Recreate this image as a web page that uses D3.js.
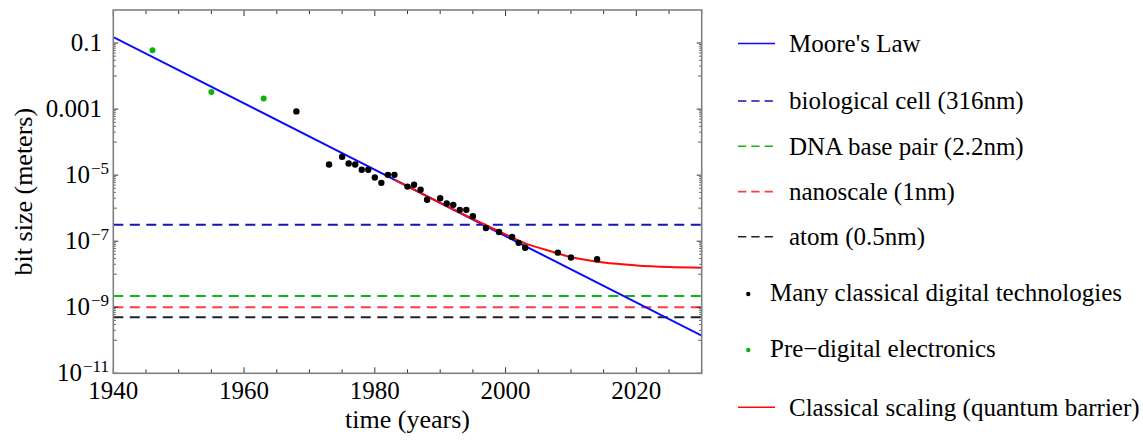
<!DOCTYPE html>
<html>
<head>
<meta charset="utf-8">
<script src="https://cdn.jsdelivr.net/npm/d3@7/dist/d3.min.js"></script>
<style>
  body { margin: 0; background: #fff; }
  svg { display: block; }
  text { font-family: "Liberation Serif", "Times New Roman", serif; fill: #000; }
</style>
</head>
<body>
<svg id="chart" width="1143" height="443"></svg>
<script>
// ---- data ----
const mooreYears = [1940, 2030];
const mooreValues = [0.152, 1.38e-10];

const scalingYears  = [1983, 1990, 1995, 2000, 2003, 2006, 2010, 2015, 2020, 2025, 2030];
const scalingValues = [7.27e-6, 1.44e-6, 4.7e-7, 1.6e-7, 8.6e-8, 5.6e-8, 3.3e-8, 2.25e-8, 1.85e-8, 1.66e-8, 1.58e-8];

const levelNames  = ["biological cell (316nm)", "DNA base pair (2.2nm)", "nanoscale (1nm)", "atom (0.5nm)"];
const levelValues = [3.16e-7, 2.2e-9, 1e-9, 5e-10];

const digitalYears  = [1968, 1973, 1975, 1976, 1977, 1978, 1979, 1980, 1981, 1982, 1983, 1985, 1986, 1987, 1988,
                       1990, 1991, 1992, 1993, 1994, 1995, 1997, 1999, 2001, 2002, 2003, 2008, 2010, 2014];
const digitalValues = [8.5e-4, 2.1e-5, 3.6e-5, 2.25e-5, 2.1e-5, 1.45e-5, 1.45e-5, 8.5e-6, 5.85e-6, 1.02e-5, 1.02e-5,
                       4.5e-6, 5.1e-6, 3.6e-6, 1.8e-6, 2.0e-6, 1.38e-6, 1.26e-6, 8.9e-7, 8.9e-7, 5.7e-7,
                       2.5e-7, 1.9e-7, 1.35e-7, 8.9e-8, 6.3e-8, 4.5e-8, 3.2e-8, 2.85e-8];

const preDigitalYears  = [1946, 1955, 1963];
const preDigitalValues = [0.06, 0.0033, 0.0021];

const xTickYears  = [1940, 1960, 1980, 2000, 2020];
const yTickValues = [1e-11, 1e-9, 1e-7, 1e-5, 1e-3, 0.1];
const yTickLabels = ["10\u221211", "10\u22129", "10\u22127", "10\u22125", "0.001", "0.1"];

const seriesLabels = ["Moore's Law", "Many classical digital technologies", "Pre\u2212digital electronics",
                      "Classical scaling (quantum barrier)"];

// ---- styles ----
const levelColors = ["#1414b4", "#14b414", "#ff3c3c", "#222222"];
const mooreColor = "#0a0aff";
const scalingColor = "#ff0a0a";
const digitalColor = "#000000";
const preDigitalColor = "#0ab40a";

// ---- layout ----
const svg = d3.select("#chart");
const plot = { left: 113.3, right: 701.7, top: 10, bottom: 373.3 };

const x = d3.scaleLinear().domain([1940, 2030]).range([plot.left, plot.right]);
const y = d3.scaleLog().domain([1e-11, 1]).range([plot.bottom, plot.top]);

const clip = svg.append("defs").append("clipPath").attr("id", "plotClip")
  .append("rect").attr("x", plot.left).attr("y", plot.top)
  .attr("width", plot.right - plot.left).attr("height", plot.bottom - plot.top);

const marks = svg.append("g").attr("clip-path", "url(#plotClip)");

// reference levels
levelValues.forEach((v, i) => {
  marks.append("line")
    .attr("x1", x(1940)).attr("x2", x(2030))
    .attr("y1", y(v)).attr("y2", y(v))
    .attr("stroke", levelColors[i]).attr("stroke-width", 2)
    .attr("stroke-dasharray", "10,6.5");
});

const line = d3.line().x(d => x(d[0])).y(d => y(d[1]));

// Moore's law trend
marks.append("path")
  .datum(mooreYears.map((t, i) => [t, mooreValues[i]]))
  .attr("d", line)
  .attr("fill", "none").attr("stroke", mooreColor).attr("stroke-width", 2);

// classical scaling curve
marks.append("path")
  .datum(scalingYears.map((t, i) => [t, scalingValues[i]]))
  .attr("d", line.curve(d3.curveMonotoneX))
  .attr("fill", "none").attr("stroke", scalingColor).attr("stroke-width", 2);

// data points
marks.selectAll("circle.digital")
  .data(digitalYears.map((t, i) => [t, digitalValues[i]]))
  .join("circle").attr("class", "digital")
  .attr("cx", d => x(d[0])).attr("cy", d => y(d[1])).attr("r", 3.2)
  .attr("fill", digitalColor);

marks.selectAll("circle.pre")
  .data(preDigitalYears.map((t, i) => [t, preDigitalValues[i]]))
  .join("circle").attr("class", "pre")
  .attr("cx", d => x(d[0])).attr("cy", d => y(d[1])).attr("r", 3)
  .attr("fill", preDigitalColor);

// ---- frame and ticks ----
const tickColor = "#333";
const axes = svg.append("g");

const xMinor = d3.range(1940, 2031, 5);
[plot.bottom, plot.top].forEach((edge, k) => {
  const dir = k === 0 ? -1 : 1;
  axes.selectAll(null).data(xMinor).join("line")
    .attr("x1", d => x(d)).attr("x2", d => x(d))
    .attr("y1", edge)
    .attr("y2", d => edge + dir * (d % 20 === 0 ? 6 : 4))
    .attr("stroke", tickColor).attr("stroke-width", 1);
});

// log ticks: labelled decades plus sub-decade marks below each
const yMinor = [];
yTickValues.slice(1).forEach(v => {
  for (let m = 1; m <= 9; m++) yMinor.push(m * v / 10);
});
[plot.left, plot.right].forEach((edge, k) => {
  const dir = k === 0 ? 1 : -1;
  axes.selectAll(null).data(yTickValues).join("line")
    .attr("x1", edge).attr("x2", edge + dir * 5)
    .attr("y1", d => y(d)).attr("y2", d => y(d))
    .attr("stroke", tickColor).attr("stroke-width", 1);
  axes.selectAll(null).data(yMinor).join("line")
    .attr("x1", edge).attr("x2", (d, i) => edge + dir * (i % 9 === 0 ? 3.5 : 2.5))
    .attr("y1", d => y(d)).attr("y2", d => y(d))
    .attr("stroke", tickColor).attr("stroke-width", 0.8);
});

axes.append("rect")
  .attr("x", plot.left).attr("y", plot.top)
  .attr("width", plot.right - plot.left).attr("height", plot.bottom - plot.top)
  .attr("fill", "none").attr("stroke", "#808080").attr("stroke-width", 1.6);

// tick labels
axes.selectAll(null).data(xTickYears).join("text")
  .attr("x", d => x(d)).attr("y", 399)
  .attr("text-anchor", "middle").attr("font-size", 25)
  .text(d => d);

yTickValues.forEach((v, i) => {
  const label = yTickLabels[i];
  const t = axes.append("text")
    .attr("y", y(v) + 8).attr("text-anchor", "end").attr("font-size", 25);
  if (label.startsWith("10\u2212")) {
    t.attr("x", 109);
    t.append("tspan").text("10");
    t.append("tspan").attr("font-size", 17).attr("dy", -9).attr("dx", 1).text(label.slice(2));
  } else {
    t.attr("x", 102).text(label);
  }
});

// axis titles
svg.append("text")
  .attr("x", (plot.left + plot.right) / 2).attr("y", 428)
  .attr("text-anchor", "middle").attr("font-size", 26)
  .text("time (years)");

svg.append("text")
  .attr("transform", `translate(32,${(plot.top + plot.bottom) / 2}) rotate(-90)`)
  .attr("text-anchor", "middle").attr("font-size", 26)
  .text("bit size (meters)");

// ---- legend ----
const legend = svg.append("g");
const lineEntry = (yPos, color, dashed, label) => {
  legend.append("line")
    .attr("x1", 738).attr("x2", 775).attr("y1", yPos).attr("y2", yPos)
    .attr("stroke", color).attr("stroke-width", 1.6)
    .attr("stroke-dasharray", dashed ? "8.3,5" : null);
  legend.append("text").attr("x", 789).attr("y", yPos + 8.3)
    .attr("font-size", 25).text(label);
};
const dotEntry = (yPos, color, label) => {
  legend.append("circle").attr("cx", 748.3).attr("cy", yPos).attr("r", 2.2).attr("fill", color);
  legend.append("text").attr("x", 770).attr("y", yPos + 7)
    .attr("font-size", 25).text(label);
};

lineEntry(43.5, mooreColor, false, seriesLabels[0]);
const levelRows = [101, 146.2, 191.6, 236.8];
levelNames.forEach((n, i) => lineEntry(levelRows[i], levelColors[i], true, n));
dotEntry(294, digitalColor, seriesLabels[1]);
dotEntry(350, preDigitalColor, seriesLabels[2]);
lineEntry(407.3, scalingColor, false, seriesLabels[3]);
</script>
</body>
</html>
